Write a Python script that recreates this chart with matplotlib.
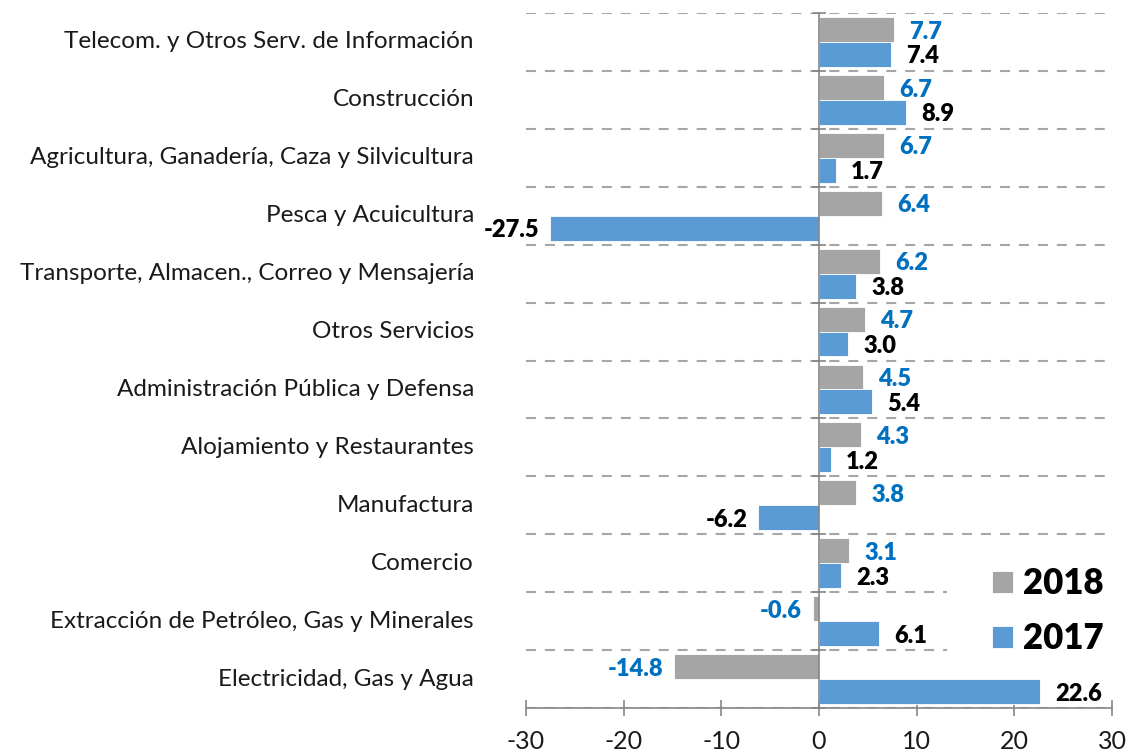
import matplotlib
matplotlib.use("Agg")
import matplotlib.pyplot as plt
import matplotlib.transforms as mtransforms
from matplotlib.patches import Rectangle
import numpy as np

plt.rcParams['font.family'] = ['Lato', 'DejaVu Sans']

# Data (top to bottom as shown in the chart)
categories = [
    "Telecom. y Otros Serv. de Información",
    "Construcción",
    "Agricultura, Ganadería, Caza y Silvicultura",
    "Pesca y Acuicultura",
    "Transporte, Almacen., Correo y Mensajería",
    "Otros Servicios",
    "Administración Pública y Defensa",
    "Alojamiento y Restaurantes",
    "Manufactura",
    "Comercio",
    "Extracción de Petróleo, Gas y Minerales",
    "Electricidad, Gas y Agua",
]
values_2018 = [7.7, 6.7, 6.7, 6.4, 6.2, 4.7, 4.5, 4.3, 3.8, 3.1, -0.6, -14.8]
values_2017 = [7.4, 8.9, 1.7, -27.5, 3.8, 3.0, 5.4, 1.2, -6.2, 2.3, 6.1, 22.6]
xticks = [-30, -20, -10, 0, 10, 20, 30]
series_names = ["2018", "2017"]

c2018 = "#A5A5A5"
c2017 = "#5B9BD5"
lbl2018 = "#0070C0"
lbl2017 = "#000000"
axis_col = "#868686"

W, H = 1133, 756
fig = plt.figure(figsize=(W / 100, H / 100), dpi=100)
ax = fig.add_axes([526 / W, (H - 708) / H, (1112 - 526) / W, (708 - 13) / H])

n = len(categories)
ypos = np.arange(n)[::-1]  # top category at highest y
off = 0.215
hgt = 0.43

b18 = ax.barh(ypos + off, values_2018, height=hgt, color=c2018, edgecolor="white",
              linewidth=0.6, zorder=3, label=series_names[0])
b17 = ax.barh(ypos - off, values_2017, height=hgt, color=c2017, edgecolor="white",
              linewidth=0.6, zorder=3, label=series_names[1])

def add_labels(vals, ys, col):
    for v, y in zip(vals, ys):
        dx = 11 if v >= 0 else -8
        ax.annotate(f"{v:.1f}", xy=(v, y), xytext=(dx, -1.5), textcoords="offset points",
                    ha="left" if v >= 0 else "right", va="center",
                    fontsize=17, fontweight="heavy", color=col, zorder=6)

add_labels(values_2018, ypos + off, lbl2018)
add_labels(values_2017, ypos - off, lbl2017)

ax.set_xlim(-30, 30)
ax.set_ylim(-0.5, n - 0.5)

# Spines
for s in ["top", "right"]:
    ax.spines[s].set_visible(False)
ax.spines["left"].set_position(("data", 0))
ax.spines["left"].set_color(axis_col)
ax.spines["left"].set_linewidth(1.2)
ax.spines["left"].set_zorder(4)
ax.spines["bottom"].set_color(axis_col)
ax.spines["bottom"].set_linewidth(1.2)

ax.set_xticks(xticks)
ax.set_xticklabels([str(t) for t in xticks])
ax.tick_params(axis="x", direction="inout", length=12, width=1.2, color=axis_col,
               labelsize=18, labelcolor="#1a1a1a", pad=10)

ax.set_yticks([])
ax.set_yticks(np.arange(-0.5, n, 1.0), minor=True)
ax.tick_params(axis="y", which="minor", direction="inout", length=10, width=1.2,
               color=axis_col, labelleft=False)
ax.yaxis.grid(True, which="minor", color="#A6A6A6", linewidth=1.5,
              linestyle=(0, (4.8, 4.3)), zorder=1)
ax.set_axisbelow(True)

# Category labels (left of plot area)
trans = mtransforms.blended_transform_factory(ax.transAxes, ax.transData)
for cat, y in zip(categories, ypos):
    ax.text((474 - 526) / (1112 - 526), y, cat, transform=trans, ha="right", va="center",
            fontsize=17.5, color="#1a1a1a")

# Legend box (white background covering gridlines)
fig.patches.append(Rectangle((947 / W, (H - 662) / H), (1112 - 947) / W, (662 - 545) / H,
                             transform=fig.transFigure, facecolor="white", edgecolor="none",
                             zorder=5))
leg = fig.legend(handles=[b18, b17], labels=series_names, loc="upper left",
                 bbox_to_anchor=(961 / W, (H - 536) / H), frameon=False,
                 prop={"size": 25, "weight": "heavy"}, handlelength=0.6, handleheight=0.6,
                 handletextpad=0.3, labelspacing=0.62)
leg.set_zorder(7)

fig.savefig("out.png", dpi=100)
